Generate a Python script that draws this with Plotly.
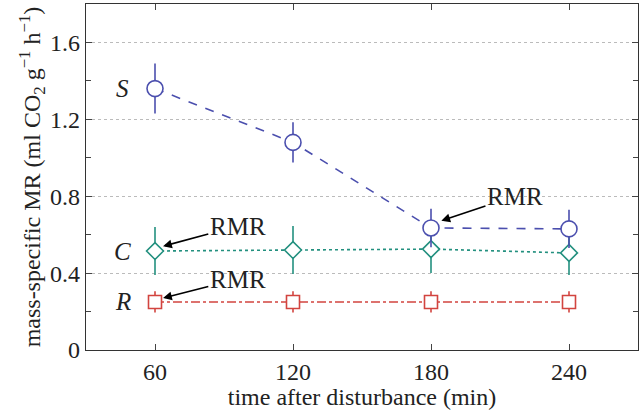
import plotly.graph_objects as go

times = [60, 120, 180, 240]

s_mean = [1.36, 1.08, 0.635, 0.63]
s_err = [0.13, 0.105, 0.10, 0.10]

c_mean = [0.515, 0.52, 0.525, 0.505]
c_err = [0.125, 0.125, 0.125, 0.115]

r_mean = [0.25, 0.25, 0.25, 0.25]
r_err = [0.055, 0.055, 0.055, 0.055]

blue = '#4b4fae'
teal = '#23907f'
red = '#d2443f'
font = 'Liberation Serif, Times New Roman, serif'

fig = go.Figure()

def add_series(y, err, color, dash, symbol, size):
    fig.add_trace(go.Scatter(
        x=times, y=y, mode='lines+markers',
        line=dict(color=color, dash=dash, width=1.6),
        marker=dict(symbol=symbol, size=size, color='white',
                    line=dict(color=color, width=1.6)),
        error_y=dict(type='data', array=err, color=color, thickness=1.6, width=0),
        showlegend=False))

add_series(r_mean, r_err, red, 'dashdot', 'square', 13)
add_series(c_mean, c_err, teal, 'dot', 'diamond', 13)
add_series(s_mean, s_err, blue, 'dash', 'circle', 16)

# series labels
for txt, yv in [('S', s_mean[0]), ('C', c_mean[0]), ('R', r_mean[0])]:
    fig.add_annotation(x=46, y=yv, text='<i>' + txt + '</i>', showarrow=False,
                       font=dict(family=font, size=25, color='#222'))

# RMR arrows: text position, arrow head position
for tx, ty, px, py in [(96, 0.644, 63.5, 0.54), (96, 0.369, 63.5, 0.27), (216.5, 0.80, 184.5, 0.672)]:
    fig.add_annotation(x=px, y=py, ax=tx, ay=ty, axref='x', ayref='y',
                       text='RMR', showarrow=True, arrowhead=2, arrowsize=1.1,
                       arrowwidth=1.6, arrowcolor='black', standoff=0,
                       font=dict(family=font, size=25, color='#222'))

fig.update_layout(
    width=640, height=410,
    margin=dict(l=86, r=2, t=4, b=60),
    plot_bgcolor='white', paper_bgcolor='white',
    font=dict(family=font, size=24, color='#222'),
    xaxis=dict(range=[30, 270], tickvals=times, ticks='inside', ticklen=6,
               showline=True, linecolor='#333', linewidth=1.2, mirror='ticks',
               showgrid=False, zeroline=False, automargin=False,
               tickfont=dict(family=font, size=24),
               title=dict(text='time after disturbance (min)', standoff=0,
                          font=dict(family=font, size=24))),
    yaxis=dict(range=[0, 1.8], tickvals=[0, 0.4, 0.8, 1.2, 1.6],
               ticktext=['0', '0.4', '0.8', '1.2', '1.6'],
               ticks='inside', ticklen=6,
               minor=dict(tickvals=[0.2, 0.6, 1.0, 1.4], ticks='inside', ticklen=5,
                          showgrid=False),
               showline=True, linecolor='#333', linewidth=1.2, mirror='ticks',
               showgrid=True, gridcolor='#bbbbbb', griddash='dot', gridwidth=1,
               zeroline=False, automargin=False,
               tickfont=dict(family=font, size=24),
               title=dict(text='mass-specific MR (ml CO<sub>2</sub> g<sup>−1</sup> h<sup>−1</sup>)',
                          standoff=2, font=dict(family=font, size=24))),
)

fig.write_html('out.html', config={'displayModeBar': False},
               post_script="document.body.style.margin='0';")
